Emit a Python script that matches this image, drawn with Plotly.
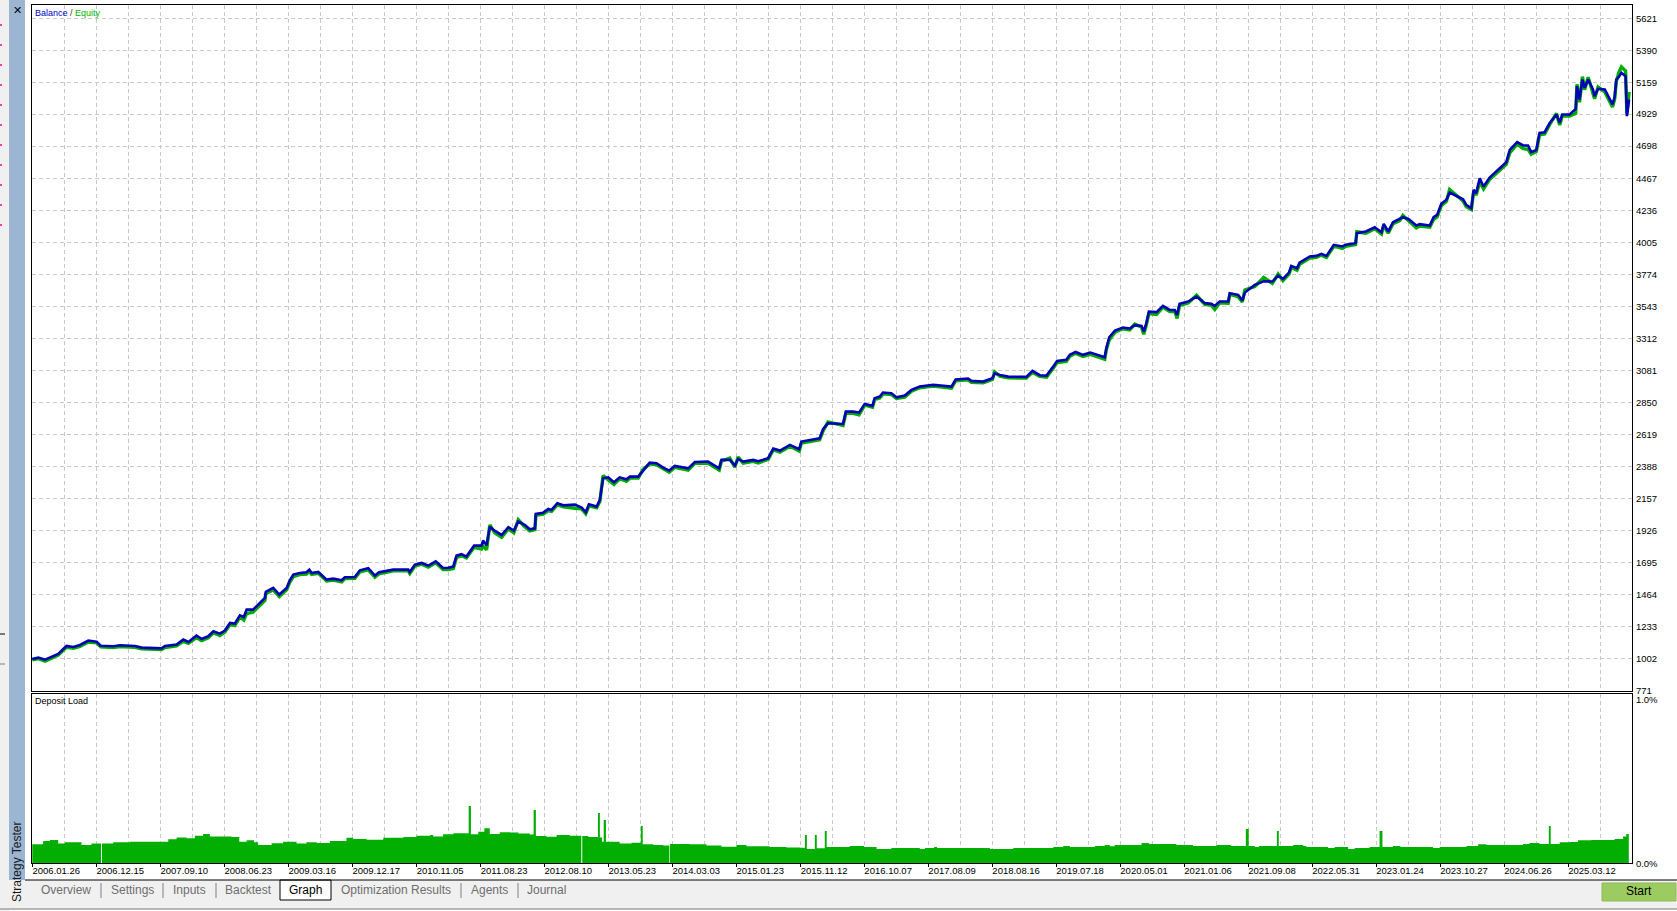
import plotly.graph_objects as go

WIDTH = 1677
HEIGHT = 911

date_labels = ["2006.01.26", "2006.12.15", "2007.09.10", "2008.06.23", "2009.03.16",
               "2009.12.17", "2010.11.05", "2011.08.23", "2012.08.10", "2013.05.23",
               "2014.03.03", "2015.01.23", "2015.11.12", "2016.10.07", "2017.08.09",
               "2018.08.16", "2019.07.18", "2020.05.01", "2021.01.06", "2021.09.08",
               "2022.05.31", "2023.01.24", "2023.10.27", "2024.06.26", "2025.03.12"]
date_ticks = list(range(0, 49, 2))
odd_ticks = list(range(1, 50, 2))
all_ticks = list(range(0, 50))

balance_ticks = [771, 1002, 1233, 1464, 1695, 1926, 2157, 2388, 2619, 2850, 3081, 3312,
                 3543, 3774, 4005, 4236, 4467, 4698, 4929, 5159, 5390, 5621]
load_ticks = [0, 1]
load_tick_text = ["0.0%", "1.0%"]

# x is the trade position along the axis, one unit per grid column
trade_pos = [0, .19, .4, .6, .81, 1.07, 1.28, 1.49, 1.75, 2.01,
             2.14, 2.53, 2.74, 3.21, 3.42, 4.04, 4.15, 4.51, 4.72, 4.88,
             5.13, 5.29, 5.5, 5.66, 5.86, 6.02, 6.18, 6.33, 6.49, 6.61,
             6.7, 6.9, 7.11, 7.27, 7.3, 7.53, 7.72, 7.95, 8.05, 8.16,
             8.36, 8.57, 8.66, 8.73, 8.94, 9.2, 9.41, 9.67, 9.77, 10.08,
             10.24, 10.5, 10.71, 10.84, 11.28, 11.75, 11.8, 11.96, 12.17, 12.38,
             12.61, 12.84, 13.0, 13.16, 13.26, 13.42, 13.57, 13.81, 14.04, 14.09,
             14.2, 14.3, 14.46, 14.67, 14.88, 15.05, 15.19, 15.4, 15.55, 15.71,
             15.74, 15.97, 16.13, 16.23, 16.41, 16.6, 16.96, 17.17, 17.3, 17.4,
             17.64, 17.74, 17.84, 18.0, 18.18, 18.36, 18.57, 18.68, 18.94, 19.09,
             19.3, 19.51, 19.72, 19.91, 20.08, 20.5, 20.71, 21.12, 21.47, 21.54,
             21.8, 21.96, 22.06, 22.22, 22.53, 22.69, 23.0, 23.16, 23.37, 23.68,
             23.97, 24.04, 24.35, 24.61, 24.72, 24.87, 25.34, 25.43, 25.65, 25.84,
             26.02, 26.26, 26.33, 26.49, 26.59, 26.85, 27.01, 27.27, 27.48, 27.74,
             28.16, 28.73, 28.86, 29.25, 29.35, 29.72, 30.01, 30.08, 30.24, 30.5,
             31.07, 31.26, 31.49, 31.7, 31.91, 32.03, 32.32, 32.43, 32.61, 32.84,
             33.07, 33.52, 33.57, 33.66, 33.84, 34.09, 34.3, 34.46, 34.67, 34.74,
             34.82, 34.9, 35.14, 35.34, 35.55, 35.71, 35.78, 35.86, 36.13, 36.39,
             36.65, 36.85, 36.96, 37.11, 37.38, 37.43, 37.69, 37.82, 37.9, 38.21,
             38.49, 38.76, 38.94, 39.09, 39.28, 39.35, 39.53, 39.61, 39.93, 40.14,
             40.29, 40.45, 40.68, 40.95, 41.05, 41.36, 41.4, 41.68, 41.96, 42.17,
             42.24, 42.38, 42.53, 42.74, 42.84, 43.02, 43.26, 43.36, 43.68, 43.8,
             43.91, 44.04, 44.2, 44.3, 44.72, 44.82, 44.98, 45.05, 45.13, 45.24,
             45.36, 45.55, 45.78, 46.07, 46.18, 46.41, 46.6, 46.75, 46.85, 47.01,
             47.11, 47.27, 47.43, 47.64, 47.74, 47.82, 48.05, 48.24, 48.28, 48.36,
             48.45, 48.52, 48.63, 48.78, 48.83, 48.94, 49.15, 49.39, 49.46, 49.51,
             49.59, 49.67, 49.8, 49.84, 49.91]

balance = [997, 1007, 992, 1012, 1033, 1091, 1084, 1098, 1130, 1122,
           1093, 1089, 1096, 1091, 1079, 1074, 1091, 1101, 1137, 1120,
           1166, 1142, 1161, 1197, 1180, 1202, 1257, 1252, 1312, 1300,
           1353, 1353, 1397, 1437, 1481, 1510, 1462, 1510, 1565, 1606,
           1618, 1623, 1642, 1618, 1625, 1570, 1577, 1565, 1587, 1589,
           1637, 1652, 1599, 1623, 1642, 1642, 1625, 1678, 1690, 1671,
           1702, 1654, 1656, 1664, 1743, 1753, 1736, 1815, 1815, 1851,
           1818, 1952, 1921, 1892, 1948, 1924, 1989, 1964, 1933, 1940,
           2044, 2053, 2080, 2073, 2121, 2106, 2111, 2090, 2056, 2114,
           2097, 2145, 2301, 2308, 2272, 2308, 2294, 2313, 2313, 2357,
           2414, 2410, 2378, 2357, 2390, 2373, 2419, 2422, 2373, 2434,
           2434, 2393, 2441, 2422, 2434, 2424, 2446, 2515, 2501, 2542,
           2511, 2566, 2578, 2590, 2657, 2698, 2693, 2782, 2782, 2775,
           2838, 2824, 2879, 2891, 2920, 2915, 2886, 2898, 2939, 2963,
           2975, 2963, 3014, 3021, 3004, 2999, 3023, 3059, 3047, 3035,
           3033, 3076, 3045, 3042, 3107, 3148, 3156, 3192, 3213, 3192,
           3208, 3175, 3240, 3319, 3367, 3389, 3382, 3406, 3401, 3360,
           3420, 3504, 3500, 3545, 3516, 3516, 3480, 3560, 3577, 3613,
           3565, 3560, 3545, 3577, 3577, 3637, 3625, 3584, 3642, 3697,
           3722, 3721, 3764, 3740, 3786, 3834, 3817, 3858, 3902, 3906,
           3921, 3906, 3986, 3974, 3986, 3998, 4070, 4082, 4113, 4077,
           4137, 4082, 4149, 4171, 4185, 4171, 4125, 4135, 4125, 4185,
           4202, 4282, 4311, 4363, 4315, 4274, 4250, 4383, 4359, 4467,
           4407, 4472, 4522, 4582, 4671, 4727, 4703, 4703, 4655, 4671,
           4794, 4799, 4866, 4927, 4866, 4927, 4927, 4967, 5131, 5035,
           5179, 5119, 5179, 5107, 5059, 5112, 5107, 4999, 5054, 5179,
           5198, 5227, 5203, 4915, 5035]

equity = [990, 1000, 982, 1003, 1026, 1082, 1075, 1088, 1120, 1114,
          1084, 1079, 1087, 1081, 1071, 1065, 1080, 1092, 1124, 1110,
          1152, 1130, 1150, 1186, 1166, 1192, 1245, 1238, 1300, 1278,
          1325, 1335, 1382, 1420, 1468, 1496, 1448, 1496, 1552, 1592,
          1606, 1610, 1630, 1608, 1615, 1560, 1567, 1553, 1577, 1580,
          1626, 1641, 1588, 1612, 1634, 1634, 1614, 1668, 1682, 1660,
          1692, 1642, 1643, 1650, 1730, 1742, 1726, 1803, 1790, 1812,
          1785, 1965, 1906, 1875, 1935, 1908, 2002, 1950, 1922, 1930,
          2034, 2042, 2068, 2062, 2110, 2095, 2085, 2080, 2045, 2103,
          2088, 2134, 2320, 2292, 2256, 2298, 2280, 2302, 2302, 2366,
          2405, 2398, 2368, 2346, 2380, 2360, 2410, 2410, 2360, 2425,
          2447, 2382, 2455, 2411, 2424, 2412, 2438, 2506, 2490, 2532,
          2498, 2556, 2568, 2580, 2645, 2708, 2682, 2772, 2770, 2760,
          2830, 2814, 2870, 2880, 2910, 2906, 2877, 2886, 2930, 2955,
          2966, 2952, 3005, 3012, 2994, 2990, 3014, 3068, 3038, 3026,
          3024, 3067, 3036, 3030, 3095, 3136, 3145, 3182, 3203, 3180,
          3196, 3160, 3228, 3300, 3356, 3380, 3372, 3414, 3392, 3340,
          3408, 3490, 3484, 3536, 3505, 3505, 3455, 3550, 3566, 3622,
          3556, 3550, 3520, 3567, 3564, 3628, 3612, 3574, 3660, 3685,
          3750, 3708, 3775, 3728, 3775, 3822, 3803, 3846, 3890, 3896,
          3912, 3896, 3976, 3960, 3975, 3988, 4080, 4070, 4102, 4064,
          4126, 4070, 4138, 4160, 4198, 4160, 4108, 4122, 4114, 4170,
          4188, 4268, 4300, 4385, 4302, 4260, 4240, 4370, 4345, 4440,
          4390, 4458, 4508, 4568, 4650, 4712, 4680, 4675, 4640, 4660,
          4780, 4786, 4855, 4935, 4850, 4916, 4915, 4935, 5145, 5015,
          5200, 5105, 5195, 5092, 5040, 5125, 5090, 4980, 5040, 5165,
          5230, 5270, 5240, 4930, 5090]

# deposit load, drawn as steps: the narrow pairs are the spikes and white slits
load_pos = [0, .34, .55, .81, 1.02, 1.54, 1.85, 2.15, 2.18, 2.53,
            3.05, 4.04, 4.25, 4.51, 4.82, 5.08, 5.34, 5.55, 5.97, 6.23,
            6.47, 6.7, 6.93, 7.06, 7.48, 7.84, 8.26, 8.57, 8.89, 9.3,
            9.82, 10.03, 10.45, 10.97, 11.6, 12.01, 12.43, 12.53, 12.84, 13.16,
            13.64, 13.71, 13.94, 14.13, 14.3, 14.61, 14.93, 15.19, 15.55, 15.67,
            15.74, 16.07, 16.39, 16.8, 17.16, 17.19, 17.38, 17.68, 17.74, 17.81,
            17.86, 17.93, 18.36, 18.73, 19.02, 19.08, 19.41, 19.72, 19.91, 19.93,
            20.55, 21.07, 21.54, 22.01, 22.32, 23.05, 23.57, 23.99, 24.15, 24.21,
            24.46, 24.52, 24.77, 24.83, 25.55, 26, 26.39, 26.85, 27.74, 27.9,
            28.19, 28.28, 29.93, 30.66, 31.91, 32.22, 32.43, 33.21, 33.52, 33.68,
            33.83, 34.67, 34.9, 35.76, 36.28, 37.01, 37.46, 37.93, 38.02, 38.21,
            38.34, 38.9, 38.96, 39.41, 39.72, 39.82, 40.5, 40.71, 41.13, 41.33,
            41.8, 42.11, 42.2, 42.53, 42.76, 43.78, 43.99, 44.82, 45.19, 45.45,
            46.59, 46.8, 47.11, 47.4, 47.46, 47.74, 48.05, 48.31, 48.73, 49.46,
            49.72, 49.82, 49.9]

load = [.116, .136, .142, .120, .128, .112, .120, 0, .120, .128,
        .132, .132, .146, .158, .152, .168, .179, .164, .164, .160,
        .132, .140, .128, .112, .122, .132, .120, .128, .124, .136,
        .156, .148, .144, .156, .160, .168, .172, .164, .177, .183,
        .349, .177, .193, .213, .179, .189, .187, .181, .175, .325,
        .166, .162, .173, .168, 0, .166, .160, .307, .158, .132,
        .264, .132, .120, .126, .227, .116, .112, .108, 0, .118,
        .116, .108, .101, .112, .104, .099, .097, .095, .173, .087,
        .173, .091, .197, .099, .106, .099, .087, .093, .087, .093,
        .099, .093, .087, .093, .099, .106, .099, .106, .112, .104,
        .112, .124, .118, .112, .106, .112, .106, .209, .106, .099,
        .106, .197, .106, .112, .106, .099, .093, .099, .087, .093,
        .099, .197, .099, .106, .099, .093, .099, .106, .116, .112,
        .118, .124, .118, .227, .118, .128, .130, .140, .142, .148,
        .164, .179, 0]

tab_names = ["Overview", "Settings", "Inputs", "Backtest", "Graph", "Optimization Results", "Agents", "Journal"]
tab_centers = [66, 132, 189, 248, 305.5, 396, 489, 546]
tab_separators = [101, 163, 216, 461, 518]

BLUE = "#0000B4"
GREEN = "#00AC00"
GRID = "#C8C8C8"
DASH = "4px,3px"
FONT = "Liberation Sans"


def px_x(x):
    return x / WIDTH


def px_y(y):
    return 1 - y / HEIGHT


def rect(x0, y0, x1, y1, fill, line=None):
    return dict(type="rect", xref="paper", yref="paper", layer="below",
                x0=px_x(x0), x1=px_x(x1), y0=px_y(y0), y1=px_y(y1),
                fillcolor=fill, line=dict(color=line or fill, width=1 if line else 0))


def hline(x0, x1, y, color, width=1):
    return dict(type="line", xref="paper", yref="paper", layer="above",
                x0=px_x(x0), x1=px_x(x1), y0=px_y(y), y1=px_y(y),
                line=dict(color=color, width=width))


def vline(x, y0, y1, color, width=1):
    return dict(type="line", xref="paper", yref="paper", layer="above",
                x0=px_x(x), x1=px_x(x), y0=px_y(y0), y1=px_y(y1),
                line=dict(color=color, width=width))


def label(x, y, text, size=12, color="#000000", xanchor="center", angle=0):
    return dict(xref="paper", yref="paper", x=px_x(x), y=px_y(y), text=text, showarrow=False,
                xanchor=xanchor, yanchor="middle", textangle=angle,
                font=dict(family=FONT, size=size, color=color))


fig = go.Figure()
fig.add_trace(go.Scatter(x=trade_pos, y=equity, mode="lines", name="Equity",
                         line=dict(color=GREEN, width=3.4), xaxis="x", yaxis="y"))
fig.add_trace(go.Scatter(x=trade_pos, y=balance, mode="lines", name="Balance",
                         line=dict(color=BLUE, width=2.6), xaxis="x", yaxis="y"))
fig.add_trace(go.Scatter(x=load_pos, y=load, mode="lines", name="Deposit Load",
                         line=dict(color="#03AE03", width=0, shape="hv"),
                         fill="tozeroy", fillcolor="#03AE03", xaxis="x2", yaxis="y2"))

shapes = [
    rect(0, 0, 9, 911, "#F0F0F0"),
    rect(9, 0, 25, 905, "#9BB5D3"),
    rect(0, 880, 1677, 909, "#F0F0F0"),
    rect(280, 880, 331, 900, "#FFFFFF", "#000000"),
    rect(1602, 883, 1676, 901, "#9CCB62", "#8DBB55"),
    hline(25, 1677, 880, "#000000", 1),
    hline(0, 1677, 909, "#A0A0A0", 1.5),
    hline(0, 5, 634, "#000000", 1),
    hline(0, 5, 664, "#808080", 1),
]
for sep in tab_separators:
    shapes.append(vline(sep, 883, 898, "#808080"))
for row in range(11):
    shapes.append(rect(0, 24 + row * 20, 2, 26 + row * 20, "#FF3DB0"))

annotations = [
    label(17, 10, "✕", size=11),
    label(17, 862, "Strategy Tester", size=12, color="#1A1A1A", angle=-90),
    label(33.4, 12.5, '<span style="color:#0000C8">Balance</span>'
                      '<span style="color:#404040"> / </span>'
                      '<span style="color:#00B400">Equity</span>', size=9, xanchor="left"),
    label(33.4, 701, "Deposit Load", size=9, xanchor="left"),
    label(1639, 890.5, "Start", size=12),
]
for name, center in zip(tab_names, tab_centers):
    annotations.append(label(center, 890, name, size=12,
                             color="#000000" if name == "Graph" else "#6E6E6E"))

fig.update_layout(
    width=WIDTH, height=916, autosize=False,
    margin=dict(l=0, r=0, t=0, b=0),
    paper_bgcolor="#FFFFFF", plot_bgcolor="#FFFFFF",
    showlegend=False, hovermode=False,
    font=dict(family=FONT, size=9.5, color="#000000"),
    shapes=shapes, annotations=annotations,
    xaxis=dict(domain=[px_x(31.8), px_x(1632)], range=[-0.015, 50], anchor="y",
               tickvals=all_ticks, showticklabels=False, ticks="", zeroline=False,
               showgrid=True, gridcolor=GRID, griddash=DASH, gridwidth=1,
               showline=True, mirror=True, linecolor="#000000", linewidth=1),
    yaxis=dict(domain=[px_y(691), px_y(4.7)], range=[766, 5719], anchor="x", side="right",
               tickvals=balance_ticks, ticks="", ticklabelstandoff=1, zeroline=False,
               showgrid=True, gridcolor=GRID, griddash=DASH, gridwidth=1,
               showline=True, mirror=True, linecolor="#000000", linewidth=1,
               tickfont=dict(family=FONT, size=9.5, color="#000000")),
    xaxis2=dict(domain=[px_x(31.8), px_x(1632)], range=[-0.015, 50], anchor="y2",
                tickvals=date_ticks, ticktext=date_labels, ticks="outside", ticklen=3,
                tickcolor="#000000", ticklabelshift=24, ticklabelstandoff=-5, tickangle=0,
                zeroline=False, showgrid=True, gridcolor=GRID, griddash=DASH, gridwidth=1,
                minor=dict(tickvals=odd_ticks, showgrid=True, gridcolor=GRID, griddash=DASH,
                           gridwidth=1, ticks=""),
                showline=True, mirror=True, linecolor="#000000", linewidth=1,
                tickfont=dict(family=FONT, size=9.5, color="#000000")),
    yaxis2=dict(domain=[px_y(863.3), px_y(694)], range=[0, 1.032], anchor="x2", side="right",
                tickvals=load_ticks, ticktext=load_tick_text, ticks="", ticklabelstandoff=1,
                showgrid=False, zeroline=False,
                showline=True, mirror=True, linecolor="#000000", linewidth=1,
                tickfont=dict(family=FONT, size=9.5, color="#000000")),
)

fig.write_html("out.html", config={"displayModeBar": False},
               post_script="document.body.style.margin='0';document.body.style.overflow='hidden';")
